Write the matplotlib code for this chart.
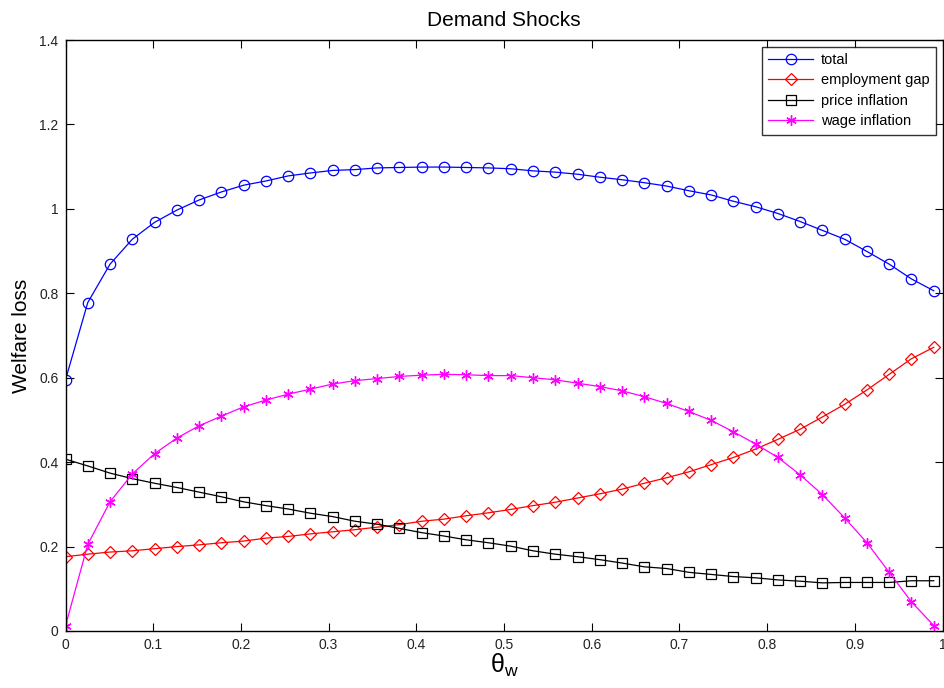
import numpy as np
import matplotlib
matplotlib.use("Agg")
import matplotlib.pyplot as plt

plt.rcParams['font.family'] = ['Liberation Sans', 'DejaVu Sans']

theta_w = np.linspace(0, 0.99, 40)

total = [0.595, 0.778, 0.869, 0.928, 0.968, 0.997, 1.021, 1.040, 1.056, 1.066,
         1.078, 1.085, 1.091, 1.093, 1.097, 1.098, 1.099, 1.099, 1.098, 1.097,
         1.095, 1.090, 1.087, 1.082, 1.075, 1.069, 1.062, 1.054, 1.043, 1.033,
         1.018, 1.005, 0.989, 0.970, 0.949, 0.928, 0.899, 0.869, 0.834, 0.806]
employment_gap = [0.176, 0.182, 0.187, 0.190, 0.195, 0.200, 0.204, 0.209, 0.213, 0.220,
                  0.224, 0.230, 0.235, 0.240, 0.246, 0.252, 0.260, 0.265, 0.273, 0.280,
                  0.288, 0.297, 0.305, 0.315, 0.325, 0.336, 0.350, 0.363, 0.377, 0.394,
                  0.411, 0.431, 0.454, 0.478, 0.507, 0.537, 0.571, 0.608, 0.645, 0.672]
price_inflation = [0.407, 0.391, 0.374, 0.361, 0.350, 0.340, 0.329, 0.318, 0.306, 0.297,
                   0.289, 0.279, 0.271, 0.260, 0.253, 0.243, 0.233, 0.225, 0.216, 0.209,
                   0.201, 0.190, 0.182, 0.176, 0.169, 0.161, 0.152, 0.148, 0.139, 0.134,
                   0.129, 0.126, 0.121, 0.118, 0.114, 0.115, 0.115, 0.115, 0.119, 0.119]
wage_inflation = [0.012, 0.205, 0.306, 0.372, 0.420, 0.457, 0.486, 0.509, 0.531, 0.547,
                  0.561, 0.573, 0.585, 0.593, 0.598, 0.603, 0.606, 0.608, 0.607, 0.605,
                  0.605, 0.600, 0.595, 0.587, 0.579, 0.569, 0.555, 0.539, 0.520, 0.499,
                  0.472, 0.443, 0.411, 0.370, 0.323, 0.268, 0.209, 0.139, 0.069, 0.013]

xticks = [0, 0.1, 0.2, 0.3, 0.4, 0.5, 0.6, 0.7, 0.8, 0.9, 1]
xticklabels = ['0', '0.1', '0.2', '0.3', '0.4', '0.5', '0.6', '0.7', '0.8', '0.9', '1']
yticks = [0, 0.2, 0.4, 0.6, 0.8, 1.0, 1.2, 1.4]
yticklabels = ['0', '0.2', '0.4', '0.6', '0.8', '1', '1.2', '1.4']

fig = plt.figure(figsize=(9.44, 6.88), dpi=100)
ax = fig.add_axes([65.5 / 944, 1 - 631 / 688, (942.5 - 65.5) / 944, (631 - 40) / 688])

lw = 0.9
ax.plot(theta_w, total, color='#0000ff', lw=lw, marker='o', ms=7.5,
        mfc='none', mec='#0000ff', mew=0.9, label='total')
ax.plot(theta_w, employment_gap, color='#ff0000', lw=lw, marker='D', ms=6.5,
        mfc='none', mec='#ff0000', mew=0.9, label='employment gap')
ax.plot(theta_w, price_inflation, color='#000000', lw=lw, marker='s', ms=7.5,
        mfc='none', mec='#000000', mew=0.9, label='price inflation')
ax.plot(theta_w, wage_inflation, color='#ff00ff', lw=lw, marker=(6, 2, 0), ms=7.5,
        mec='#ff00ff', mew=1.0, label='wage inflation')

ax.set_xlim(0, 1)
ax.set_ylim(0, 1.4)
ax.set_xticks(xticks)
ax.set_xticklabels(xticklabels)
ax.set_yticks(yticks)
ax.set_yticklabels(yticklabels)
ax.tick_params(direction='in', top=True, right=True, length=6, width=0.8,
               labelsize=10, pad=5, labelcolor='#222222')
for s in ax.spines.values():
    s.set_linewidth(1.0)

ax.set_title('Demand Shocks', fontsize=15, pad=10)
ax.set_ylabel('Welfare loss', fontsize=15, labelpad=6)
ax.set_xlabel(r'$\mathregular{\theta_w}$', fontsize=18, labelpad=0)

leg = ax.legend(loc='upper right', fontsize=10.5, frameon=True, fancybox=False,
                edgecolor='black', handlelength=3.1, borderaxespad=0.45,
                labelspacing=0.43, handletextpad=0.5, borderpad=0.45)
leg.get_frame().set_linewidth(1.0)

fig.savefig('out.png', dpi=100)
